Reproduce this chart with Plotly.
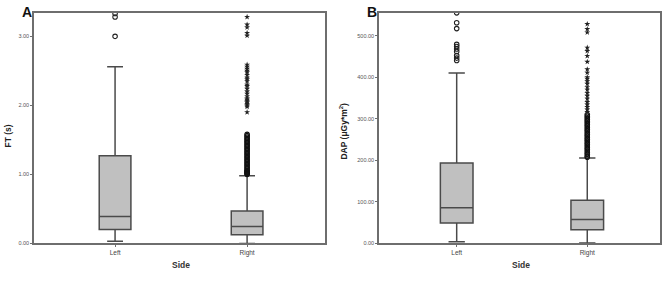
import plotly.graph_objects as go

W, H = 669, 283

categories = ["Left", "Right"]

# Panel A: FT (s)
ft_q1 = [0.20, 0.125]
ft_median = [0.39, 0.245]
ft_q3 = [1.27, 0.47]
ft_lower = [0.03, 0.0]
ft_upper = [2.56, 0.98]
ft_left_outliers = [3.00, 3.28, 3.33]
ft_right_outliers = [1.00, 1.01, 1.02, 1.03, 1.04, 1.05, 1.06, 1.08, 1.10, 1.12,
                     1.14, 1.16, 1.18, 1.20, 1.22, 1.24, 1.26, 1.28, 1.30, 1.32,
                     1.34, 1.36, 1.38, 1.40, 1.42, 1.44, 1.46, 1.48, 1.50, 1.52,
                     1.54, 1.56, 1.58]
ft_right_extremes = [1.90, 1.98, 2.00, 2.02, 2.04, 2.06, 2.08, 2.10, 2.13, 2.17,
                     2.20, 2.24, 2.28, 2.30, 2.35, 2.38, 2.40, 2.44, 2.48, 2.50,
                     2.53, 2.56, 2.59, 3.01, 3.05, 3.13, 3.17, 3.28]
ft_ticks = [0, 1, 2, 3]

# Panel B: DAP (µGy*m²)
dap_q1 = [48.7, 32]
dap_median = [85, 57]
dap_q3 = [193, 103]
dap_lower = [3, 0]
dap_upper = [410, 205]
dap_left_outliers = [440, 446, 452, 462, 468, 474, 479, 517, 531, 555]
dap_right_outliers = [207, 210, 214, 218, 222, 226, 230, 234, 238, 242, 246, 250,
                      254, 258, 262, 266, 270, 274, 278, 282, 286, 290, 294, 298,
                      302, 306, 310]
dap_right_extremes = [316, 322, 328, 334, 340, 348, 355, 362, 370, 376, 384, 390,
                      396, 400, 411, 419, 437, 451, 463, 471, 508, 516, 528]
dap_ticks = [0, 100, 200, 300, 400, 500]

FONT = "Liberation Sans, Arial, sans-serif"
LINE = "#4a4a4a"
AXC = "#6e6e6e"

fig = go.Figure()

def add_panel(xa, ya, q1, med, q3, lo, hi, left_out, right_out, right_ext, bw):
    fig.add_trace(go.Box(
        x=categories, q1=q1, median=med, q3=q3, lowerfence=lo, upperfence=hi,
        fillcolor="#c0c0c0", line=dict(color=LINE, width=1.5),
        width=bw, whiskerwidth=0.5, boxpoints=False,
        xaxis=xa, yaxis=ya, showlegend=False, hoverinfo="skip"))
    fig.add_trace(go.Scatter(
        x=[categories[0]] * len(left_out), y=left_out, mode="markers",
        marker=dict(symbol="circle-open", size=4.5, color="#222222",
                    line=dict(width=1.1, color="#222222")),
        xaxis=xa, yaxis=ya, showlegend=False, hoverinfo="skip"))
    fig.add_trace(go.Scatter(
        x=[categories[1]] * len(right_out), y=right_out, mode="markers",
        marker=dict(symbol="circle-open", size=4.5, color="#111111",
                    line=dict(width=1.2, color="#111111")),
        xaxis=xa, yaxis=ya, showlegend=False, hoverinfo="skip"))
    fig.add_trace(go.Scatter(
        x=[categories[1]] * len(right_ext), y=right_ext, mode="markers",
        marker=dict(symbol="star", size=4.5, color="#222222",
                    line=dict(width=0)),
        xaxis=xa, yaxis=ya, showlegend=False, hoverinfo="skip"))

add_panel("x", "y", ft_q1, ft_median, ft_q3, ft_lower, ft_upper,
          ft_left_outliers, ft_right_outliers, ft_right_extremes, 0.24)
add_panel("x2", "y2", dap_q1, dap_median, dap_q3, dap_lower, dap_upper,
          dap_left_outliers, dap_right_outliers, dap_right_extremes, 0.25)

def px_x(p):
    return p / W

def px_y(p):
    return 1 - p / H

axis_common = dict(showline=True, linecolor=AXC, linewidth=1.5, mirror=True,
                   showgrid=False, zeroline=False, ticks="outside",
                   tickcolor=AXC, ticklen=2, tickwidth=1,
                   tickfont=dict(family=FONT, size=5.5, color="#555555"))

xtick_font = dict(family=FONT, size=6.5, color="#444444")

fig.update_layout(
    width=W, height=H,
    margin=dict(l=0, r=0, t=0, b=0),
    paper_bgcolor="white", plot_bgcolor="white",
    xaxis=dict(domain=[px_x(34), px_x(325)], anchor="y", type="category",
               range=[-0.614, 1.59], **{**axis_common, "tickfont": xtick_font}),
    yaxis=dict(domain=[px_y(246), px_y(13)], anchor="x", range=[0, 3.34],
               tickvals=ft_ticks, tickformat=".2f", **axis_common),
    xaxis2=dict(domain=[px_x(379), px_x(660)], anchor="y2", type="category",
                range=[-0.595, 1.557], **{**axis_common, "tickfont": xtick_font}),
    yaxis2=dict(domain=[px_y(245.7), px_y(13)], anchor="x2", range=[0, 555],
                tickvals=dap_ticks, tickformat=".2f", **axis_common),
    annotations=[
        dict(text="<b>A</b>", x=px_x(27), y=px_y(12), xref="paper", yref="paper",
             showarrow=False, xanchor="center", yanchor="middle",
             font=dict(family=FONT, size=14, color="#111111")),
        dict(text="<b>B</b>", x=px_x(372), y=px_y(12), xref="paper", yref="paper",
             showarrow=False, xanchor="center", yanchor="middle",
             font=dict(family=FONT, size=14, color="#111111")),
        dict(text="<b>FT (s)</b>", x=px_x(8), y=px_y(138), xref="paper", yref="paper",
             showarrow=False, textangle=-90, xanchor="center", yanchor="middle",
             font=dict(family=FONT, size=8.5, color="#222222")),
        dict(text="<b>DAP (μGy*m<sup>2</sup>)</b>", x=px_x(344), y=px_y(133),
             xref="paper", yref="paper",
             showarrow=False, textangle=-90, xanchor="center", yanchor="middle",
             font=dict(family=FONT, size=8.5, color="#222222")),
        dict(text="<b>Side</b>", x=px_x(181), y=px_y(268), xref="paper", yref="paper",
             showarrow=False, xanchor="center", yanchor="middle",
             font=dict(family=FONT, size=8.5, color="#333333")),
        dict(text="<b>Side</b>", x=px_x(521), y=px_y(268), xref="paper", yref="paper",
             showarrow=False, xanchor="center", yanchor="middle",
             font=dict(family=FONT, size=8.5, color="#333333")),
    ],
)

fig.write_html("out.html",
               config={"displayModeBar": False},
               post_script="document.body.style.margin='0';document.body.style.overflow='hidden';")
